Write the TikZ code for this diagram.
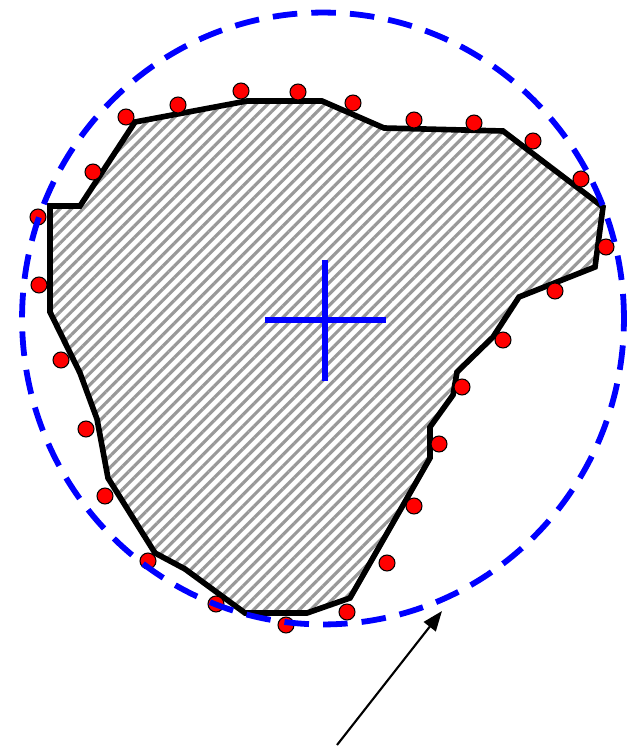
\documentclass[tikz,border=0pt]{standalone}
\usetikzlibrary{arrows.meta,patterns.meta}
\definecolor{hullblue}{HTML}{0000FF}
\definecolor{ptred}{HTML}{FF0000}
\tikzset{
  region/.style={line width=3.2pt, line join=miter, draw=black,
    pattern={Lines[angle=45, distance=4.6pt, line width=1.8pt]}, pattern color=black!40},
  bound/.style={draw=hullblue, line width=3.3pt, dash pattern=on 14pt off 8pt},
  ctr/.style={draw=hullblue, line width=3.2pt},
  pt/.style={circle, draw=black, line width=0.6pt, fill=ptred, minimum size=0.32cm, inner sep=0pt},
  ptr/.style={-{Triangle[length=4mm, width=3mm]}, line width=1.2pt, draw=black},
}
\begin{document}
\begin{tikzpicture}[x=0.02cm, y=-0.02cm]
  \useasboundingbox (0,0) rectangle (634,749);
  % outline of the shape
  \draw[region] (135,122) -- (247,101) -- (322,101) -- (384,128) -- (503,131)
    -- (603,207) -- (595,267) -- (519,297) -- (493,337) -- (457,372)
    -- (453,395) -- (430,427) -- (430,458) -- (350,598) -- (307,613)
    -- (245,613) -- (185,569) -- (155,553) -- (108,478) -- (97,419)
    -- (80,373) -- (50,312) -- (50,206) -- (80,206) -- cycle;
  % sample points
  \foreach \i/\px/\py in {1/126/117, 2/178/105, 3/241/91, 4/298/92, 5/353/103,
      6/414/120, 7/474/123, 8/533/141, 9/581/179, 10/606/247, 11/555/291,
      12/503/340, 13/462/387, 14/439/444, 15/414/506, 16/387/563, 17/347/612,
      18/286/625, 19/216/604, 20/148/561, 21/105/496, 22/86/429, 23/61/360,
      24/39/285, 25/38/217, 26/93/172}
    \node[pt] (p\i) at (\px,\py) {};
  % enclosing circle and its centre
  \coordinate (c) at (323,318.5);
  \draw[bound] (c) ellipse [x radius=6.02cm, y radius=6.12cm];
  \coordinate (cw) at (265,320);
  \coordinate (ce) at (386,320);
  \coordinate (cn) at (325,260);
  \coordinate (cs) at (325,381);
  \draw[ctr] (cw) -- (ce);
  \draw[ctr] (cn) -- (cs);
  % pointer
  \coordinate (tail) at (337,745);
  \coordinate (tip) at (442,611);
  \draw[ptr] (tail) -- (tip);
\end{tikzpicture}
\end{document}
